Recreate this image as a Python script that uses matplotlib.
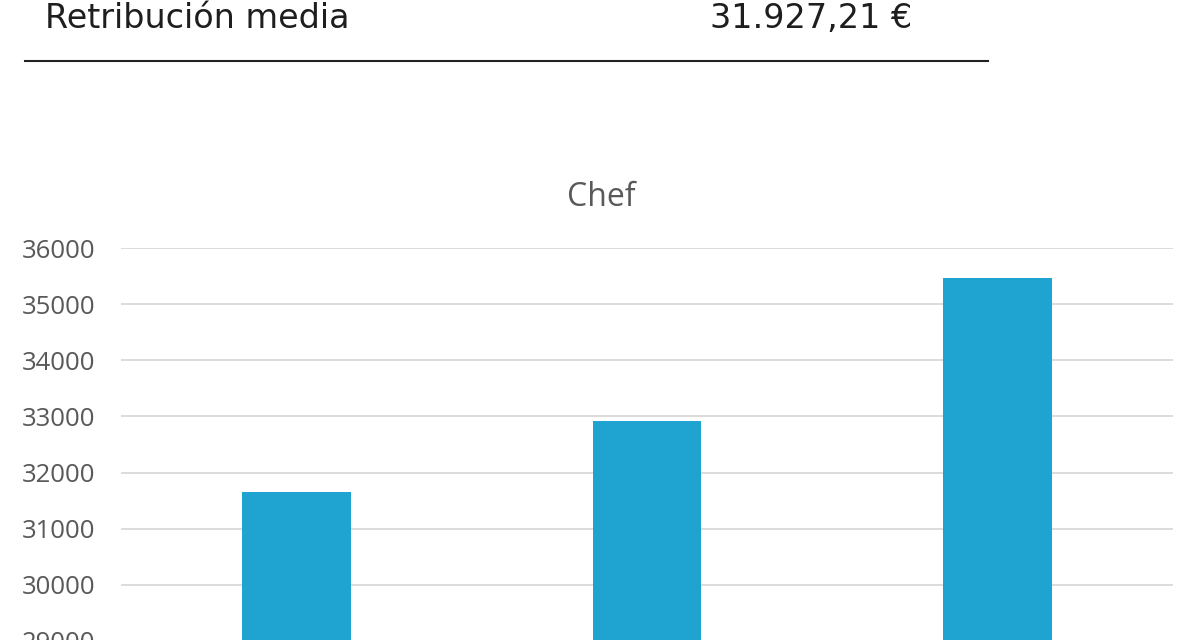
import matplotlib
matplotlib.use("Agg")
import matplotlib.pyplot as plt
from matplotlib.lines import Line2D

categories = ["A", "B", "C"]
values = [31650, 32910, 35470]
yticks = [29000, 30000, 31000, 32000, 33000, 34000, 35000, 36000]
header_label = "Retribución media"
header_value = "31.927,21 €"
title = "Chef"

W, H = 1200, 640
fig = plt.figure(figsize=(W / 100, H / 100), dpi=100)
fig.patch.set_facecolor("white")

# header
fig.text(45 / W, 1 - 19 / H, header_label, fontsize=24, color="#1e1e1e",
         family="DejaVu Sans", va="center", ha="left")
fig.text(912 / W, 1 - 19 / H, header_value, fontsize=24, color="#1e1e1e",
         family="DejaVu Sans", va="center", ha="right")
fig.add_artist(Line2D([25 / W, 988 / W], [1 - 61 / H, 1 - 61 / H],
                      transform=fig.transFigure, color="#222222", lw=1.5))

# chart axes (extends below the bottom edge, as in the cropped reference)
left, right = 121, 1173
top_px, bot_px = 248, 697
ax = fig.add_axes([left / W, 1 - bot_px / H, (right - left) / W, (bot_px - top_px) / H])
x = list(range(len(categories)))
ax.bar(x, values, width=0.31, color="#1FA3D0", zorder=3)
ax.set_xlim(-0.5, len(categories) - 0.5)
ax.set_ylim(28000, 36000)
ax.set_yticks(yticks)
ax.set_yticklabels([str(v) for v in yticks])
ax.grid(axis="y", color="#d9d9d9", lw=1.3, zorder=0)
ax.set_xticks([])
for s in ax.spines.values():
    s.set_visible(False)
ax.tick_params(axis="y", length=0, pad=18.5, labelsize=18.5, labelcolor="#595959")
for lab in ax.get_yticklabels():
    lab.set_family("Open Sans")

fig.text(601 / W, 1 - 197 / H, title, fontsize=23, color="#595959",
         family="Open Sans", ha="center", va="center")

fig.savefig("out.png", dpi=100)
